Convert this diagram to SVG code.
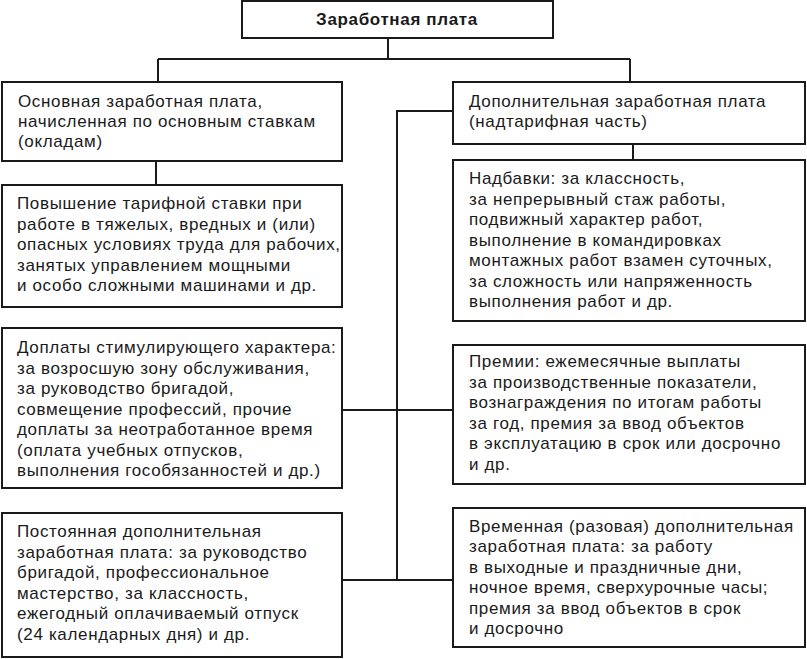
<svg xmlns="http://www.w3.org/2000/svg" width="807" height="659" viewBox="0 0 807 659">
<style>
.box{fill:#fff;stroke:#1a1a1a;stroke-width:2}
.ln{fill:none;stroke:#1a1a1a;stroke-width:2}
text{font-family:"Liberation Sans",Arial,sans-serif;font-size:17px;letter-spacing:0.65px;fill:#1a1a1a}
.t{font-weight:bold;text-anchor:middle}
</style>
<rect width="807" height="659" fill="#fff"/>
<g id="connectors">
<path class="ln" d="M388 38V59M158 59H630M158 59V82M630 59V82"/>
<path class="ln" d="M156 161V185"/>
<path class="ln" d="M633 144V160"/>
<path class="ln" d="M453 111H397V580"/>
<path class="ln" d="M342 410H453"/>
<path class="ln" d="M342 580H453"/>
</g>
<g id="root">
<rect class="box" x="242" y="1" width="311" height="37"/>
<text class="t" x="397" y="25">Заработная плата</text>
</g>
<g id="basic">
<rect class="box" x="2" y="82" width="340" height="79"/>
<text x="18" y="107">Основная заработная плата,</text>
<text x="18" y="127">начисленная по основным ставкам</text>
<text x="18" y="147">(окладам)</text>
</g>
<g id="additional">
<rect class="box" x="453" y="82" width="352" height="62"/>
<text x="469" y="107">Дополнительная заработная плата</text>
<text x="469" y="127">(надтарифная часть)</text>
</g>
<g id="tariff">
<rect class="box" x="2" y="185" width="340" height="122"/>
<text x="17" y="209">Повышение тарифной ставки при</text>
<text x="17" y="230">работе в тяжелых, вредных и (или)</text>
<text x="17" y="250">опасных условиях труда для рабочих,</text>
<text x="17" y="271">занятых управлением мощными</text>
<text x="17" y="291">и особо сложными машинами и др.</text>
</g>
<g id="nadbavki">
<rect class="box" x="453" y="160" width="352" height="161"/>
<text x="469" y="184">Надбавки: за классность,</text>
<text x="469" y="205">за непрерывный стаж работы,</text>
<text x="469" y="225">подвижный характер работ,</text>
<text x="469" y="246">выполнение в командировках</text>
<text x="469" y="266">монтажных работ взамен суточных,</text>
<text x="469" y="287">за сложность или напряженность</text>
<text x="469" y="307">выполнения работ и др.</text>
</g>
<g id="doplaty">
<rect class="box" x="2" y="328" width="340" height="160"/>
<text x="17" y="353">Доплаты стимулирующего характера:</text>
<text x="17" y="374">за возросшую зону обслуживания,</text>
<text x="17" y="394">за руководство бригадой,</text>
<text x="17" y="415">совмещение профессий, прочие</text>
<text x="17" y="435">доплаты за неотработанное время</text>
<text x="17" y="456">(оплата учебных отпусков,</text>
<text x="17" y="476">выполнения гособязанностей и др.)</text>
</g>
<g id="premii">
<rect class="box" x="453" y="345" width="352" height="139"/>
<text x="469" y="367">Премии: ежемесячные выплаты</text>
<text x="469" y="388">за производственные показатели,</text>
<text x="469" y="408">вознаграждения по итогам работы</text>
<text x="469" y="429">за год, премия за ввод объектов</text>
<text x="469" y="449">в эксплуатацию в срок или досрочно</text>
<text x="469" y="470">и др.</text>
</g>
<g id="permanent">
<rect class="box" x="2" y="513" width="340" height="144"/>
<text x="17" y="537">Постоянная дополнительная</text>
<text x="17" y="558">заработная плата: за руководство</text>
<text x="17" y="578">бригадой, профессиональное</text>
<text x="17" y="599">мастерство, за классность,</text>
<text x="17" y="619">ежегодный оплачиваемый отпуск</text>
<text x="17" y="640">(24 календарных дня) и др.</text>
</g>
<g id="temporary">
<rect class="box" x="453" y="508" width="352" height="139"/>
<text x="469" y="532">Временная (разовая) дополнительная</text>
<text x="469" y="552">заработная плата: за работу</text>
<text x="469" y="573">в выходные и праздничные дни,</text>
<text x="469" y="593">ночное время, сверхурочные часы;</text>
<text x="469" y="614">премия за ввод объектов в срок</text>
<text x="469" y="634">и досрочно</text>
</g>
</svg>
